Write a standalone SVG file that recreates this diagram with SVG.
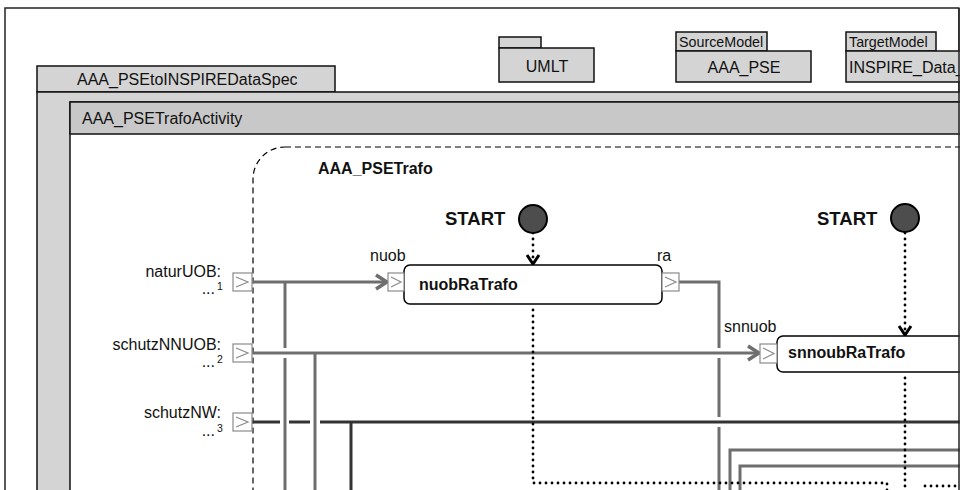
<svg xmlns="http://www.w3.org/2000/svg" width="962" height="490" viewBox="0 0 962 490">
<style>
text{font-family:"Liberation Sans",Arial,sans-serif;fill:#111}
.t16{font-size:16px}
.t14{font-size:14.3px}
.b{font-weight:bold}
.pkg{fill:#d4d4d4;stroke:#111;stroke-width:1.5}
.hdr{fill:#c8c8c8;stroke:#111;stroke-width:1.5}
.pin{fill:#fff;stroke:#8a8a8a;stroke-width:1.2}
.chev{fill:none;stroke:#8a8a8a;stroke-width:1.2}
.g{fill:none;stroke:#6e6e6e;stroke-width:3}
.d{fill:none;stroke:#333;stroke-width:3}
.dot{fill:none;stroke:#000;stroke-width:2.8;stroke-linecap:round;stroke-dasharray:0 6}
.act{fill:#fff;stroke:#000;stroke-width:1.5}
.vhead{fill:none;stroke:#000;stroke-width:3}
.ahead{fill:none;stroke:#6e6e6e;stroke-width:3.5}
</style>
<rect x="0" y="0" width="962" height="490" fill="#fff"/>
<g id="outer-frame">
<rect x="5" y="8" width="954" height="500" fill="#fff" stroke="#222" stroke-width="1.5"/>
</g>
<g id="pkg-UMLT">
<rect class="pkg" x="499" y="37" width="42" height="11"/>
<rect class="pkg" x="499" y="48" width="95" height="34"/>
<text class="t16" x="547" y="72" text-anchor="middle">UMLT</text>
</g>
<g id="pkg-AAA_PSE">
<rect class="pkg" x="676" y="32" width="91" height="19"/>
<text class="t14" x="679" y="47">SourceModel</text>
<rect class="pkg" x="676" y="51" width="135" height="31"/>
<text class="t16" x="744" y="73" text-anchor="middle">AAA_PSE</text>
</g>
<g id="pkg-INSPIRE">
<rect class="pkg" x="846" y="32" width="90" height="19"/>
<text class="t14" x="849" y="47">TargetModel</text>
<rect class="pkg" x="846" y="51" width="120" height="31"/>
<text class="t16" x="849" y="73">INSPIRE_Data_</text>
</g>
<g id="pkg-AAA_PSEtoINSPIREDataSpec">
<rect class="pkg" x="37" y="66" width="298" height="26"/>
<text class="t16" x="77" y="85">AAA_PSEtoINSPIREDataSpec</text>
<rect class="pkg" x="37" y="92" width="940" height="420"/>
</g>
<g id="activity-AAA_PSETrafoActivity">
<rect x="70" y="102" width="900" height="410" fill="#fff" stroke="#111" stroke-width="1.5"/>
<rect class="hdr" x="70" y="102" width="900" height="32"/>
<text class="t16" x="82" y="124">AAA_PSETrafoActivity</text>
</g>
<g id="region-AAA_PSETrafo">
<rect x="253" y="147" width="760" height="400" rx="32" ry="32" fill="none" stroke="#000" stroke-width="1.2" stroke-dasharray="6 4"/>
<text class="t16 b" x="318" y="174">AAA_PSETrafo</text>
</g>
<g id="connectors">
<path class="g" d="M252 282 H386"/>
<path class="ahead" d="M376 275 L387 282 L376 289"/>
<path class="g" d="M285 282 V348 M285 358 V495"/>
<path class="g" d="M252 353 H758"/>
<path class="ahead" d="M748 346 L759 353 L748 360"/>
<path class="g" d="M315 353 V495"/>
<path class="g" d="M679 282 H719 V348 M719 358 V417 M719 427 V495"/>
<path class="d" d="M252 422 H280 M289 422 H310 M320 422 H962"/>
<path class="d" d="M351 422 V495"/>
<path class="g" d="M962 450 H730 V495"/>
<path class="g" d="M962 466 H740 V495"/>
<path class="dot" d="M533 233 V262"/>
<path class="vhead" d="M527 255 L533 264 L539 255"/>
<path class="dot" d="M905 233 V333"/>
<path class="vhead" d="M899 326 L905 335 L911 326"/>
<path class="dot" d="M533 310 V483 H887 V495"/>
<path class="dot" d="M905 378 V495"/>
<path class="dot" d="M925 486 H962"/>
</g>
<g id="param-naturUOB">
<text class="t16" x="221" y="277" text-anchor="end">naturUOB:</text>
<text class="t16" x="215" y="294" text-anchor="end">...</text>
<text x="217" y="290" font-size="10.5">1</text>
<rect class="pin" x="233" y="273" width="19" height="18"/>
<path class="chev" d="M236 277 L248 282 L236 287"/>
</g>
<g id="param-schutzNNUOB">
<text class="t16" x="221" y="350" text-anchor="end">schutzNNUOB:</text>
<text class="t16" x="215" y="367" text-anchor="end">...</text>
<text x="217" y="363" font-size="10.5">2</text>
<rect class="pin" x="233" y="344" width="19" height="18"/>
<path class="chev" d="M236 348 L248 353 L236 358"/>
</g>
<g id="param-schutzNW">
<text class="t16" x="221" y="418" text-anchor="end">schutzNW:</text>
<text class="t16" x="215" y="436" text-anchor="end">...</text>
<text x="217" y="432" font-size="10.5">3</text>
<rect class="pin" x="233" y="413" width="19" height="18"/>
<path class="chev" d="M236 417 L248 422 L236 427"/>
</g>
<g id="start-1">
<text class="b" x="445" y="225" font-size="18.5">START</text>
<circle cx="533" cy="219" r="14" fill="#4d4d4d" stroke="#000" stroke-width="2"/>
</g>
<g id="start-2">
<text class="b" x="817" y="225" font-size="18.5">START</text>
<circle cx="905" cy="218" r="14" fill="#4d4d4d" stroke="#000" stroke-width="2"/>
</g>
<g id="action-nuobRaTrafo">
<rect class="act" x="404" y="265" width="258" height="39" rx="6" ry="6"/>
<text class="t16 b" x="419" y="290">nuobRaTrafo</text>
<rect class="pin" x="388" y="273" width="16" height="18"/>
<path class="chev" d="M391 277 L401 282 L391 287"/>
<text class="t16" x="370" y="261">nuob</text>
<rect class="pin" x="662" y="273" width="17" height="18"/>
<path class="chev" d="M665 277 L676 282 L665 287"/>
<text class="t16" x="657" y="261">ra</text>
</g>
<g id="action-snnoubRaTrafo">
<rect class="act" x="777" y="336" width="220" height="36" rx="6" ry="6"/>
<text class="t16 b" x="788" y="358">snnoubRaTrafo</text>
<rect class="pin" x="760" y="344" width="17" height="19"/>
<path class="chev" d="M763 348 L774 353.5 L763 359"/>
<text class="t16" x="724" y="332">snnuob</text>
</g>
<g id="clip-edge">
<rect x="959.75" y="0" width="3" height="490" fill="#fff"/>
<line x1="959" y1="8" x2="959" y2="490" stroke="#222" stroke-width="1.5"/>
</g>
</svg>
